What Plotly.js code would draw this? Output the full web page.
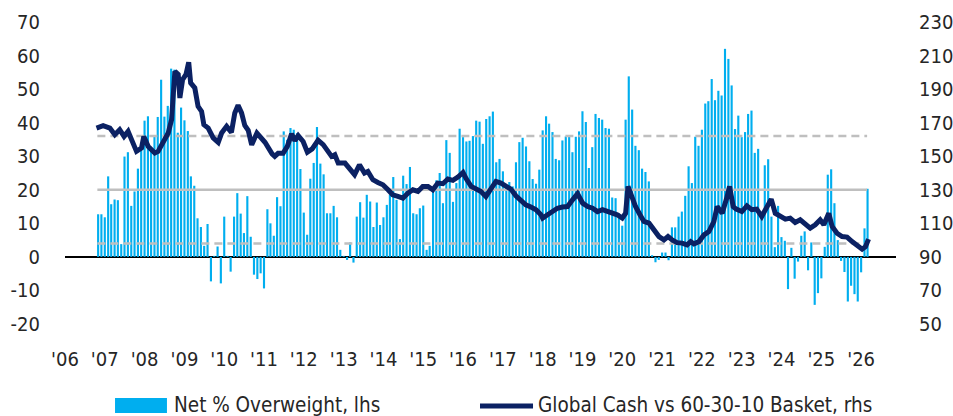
<!DOCTYPE html>
<html>
<head>
<meta charset="utf-8">
<script src="https://cdn.plot.ly/plotly-3.0.1.min.js"></script>
<style>
  html, body { margin: 0; padding: 0; background: #fff; }
  #chart { width: 953px; height: 416px; }
</style>
</head>
<body>
<div id="chart"></div>
<script>
// ---- Net % overweight cash (lhs), monthly, first bar = Nov 2006 ----
const barStart = { year: 2006, month: 11 };
const ow2006 = [12.7, 12.7];
const ow2007 = [11.8, 24.0, 15.7, 17.1, 16.9, 3.8, 29.9, 31.2, 15.2, 19.5, 26.3, 31.9];
const ow2008 = [40.6, 41.9, 32, 36, 41.7, 52.8, 41.8, 45, 56.1, 55.8, 37, 44.5];
const ow2009 = [40.7, 37.5, 24.0, 21.2, 11.5, 8.9, 3.3, 9.8, -7.3, 0.3, 3.1, -7.9];
const ow2010 = [12, 0.3, -4.4, 12, 19, 12.9, 7.1, 18.1, 6, -5.3, -6.6, -4.9];
const ow2011 = [-9.4, 14.2, 10, 6.3, 17.8, 15.1, 37.4, 34.9, 38.4, 37.9, 36.9, 26.2];
const ow2012 = [13.2, 6.6, 23.3, 28, 38.7, 27.8, 24.6, 13, 13, 15.2, 11.8, 2.1];
const ow2013 = [0.3, -0.9, 4.3, -1.7, 12, 16.3, 11.7, 18.5, 16.5, 8.9, 16.2, 9.5];
const ow2014 = [11.8, 15.5, 18.5, 23.8, 17, 5.3, 24.2, 21.7, 26.8, 13, 12.7, 14.5];
const ow2015 = [15.3, 2.1, 3.3, 19.5, 22.8, 25, 16, 34.8, 31, 16.4, 22, 38.2];
const ow2016 = [35.7, 34.4, 34.6, 36, 40.6, 40.3, 33.7, 41.1, 41.9, 43.3, 28.2, 29.2];
const ow2017 = [25.5, 21, 22.3, 21, 28.2, 34.2, 35.5, 32.9, 28.5, 23.2, 21.8, 26];
const ow2018 = [37.7, 41.9, 39.7, 37.2, 29.2, 28.8, 34.7, 35.9, 36, 31.2, 35.8, 37.4];
const ow2019 = [43.4, 40.2, 26.5, 32.7, 42.6, 41.4, 40.9, 38.4, 38.2, 17.7, 17.5, 13];
const ow2020 = [9.3, 40.9, 53.8, 43.9, 33.1, 31.8, 26.3, 25.3, 22.5, 0.5, -1.6, -0.9];
const ow2021 = [1.3, 1.3, -1, 8.8, 8.8, 12, 13.5, 18.2, 27, 22, 35.8, 33.1];
const ow2022 = [37.9, 45.7, 46.4, 53, 46.7, 49.5, 48.1, 62, 59, 51.1, 38.1, 42.1];
const ow2023 = [35.7, 37.2, 42.6, 43.6, 31, 32.2, 13, 27.3, 29.1, 12, 2.9, 15.2];
const ow2024 = [5.9, 4.8, -9.6, 2.7, -6.5, -1.4, 6.3, 7.6, -4, 4.3, -14.3, -10.8];
const ow2025 = [-6.4, 3, 24.5, 26.1, 16, 5, -1.2, -4.5, -13.3, -8.6, -11.1, -13.3];
const ow2026 = [-4.6, 8.5, 20.3];

// ---- Global Cash vs 60-30-10 basket (rhs) ----
const cashDates = [
'2006-10-17','2006-12-17','2007-02-17','2007-04-03','2007-05-18','2007-06-27','2007-08-03','2007-09-18',
'2007-10-19','2007-12-04','2007-12-25','2008-02-04','2008-04-04','2008-05-04','2008-06-19','2008-08-05',
'2008-09-05','2008-09-20','2008-10-05','2008-11-05','2008-11-20','2008-12-15','2009-01-15','2009-02-09',
'2009-02-27','2009-04-06','2009-05-06','2009-06-07','2009-06-28','2009-08-07','2009-09-22','2009-11-07',
'2009-12-08','2010-01-23','2010-03-08','2010-04-08','2010-05-08','2010-06-09','2010-07-09','2010-08-09',
'2010-09-10','2010-10-28','2010-12-01','2011-01-10','2011-03-16','2011-04-10','2011-05-10','2011-06-25',
'2011-08-03','2011-09-11','2011-10-11','2011-11-11','2011-12-26','2012-02-03','2012-03-18','2012-05-11',
'2012-06-27','2012-07-27','2012-09-12','2012-10-12','2012-11-12','2013-01-13','2013-02-10','2013-04-11',
'2013-05-26','2013-07-11','2013-08-11','2013-09-26','2013-11-11','2013-12-27','2014-02-12','2014-03-27',
'2014-05-13','2014-06-28','2014-08-13','2014-09-28','2014-11-13','2014-12-28','2015-02-14','2015-03-30',
'2015-05-15','2015-06-30','2015-08-15','2015-09-30','2015-11-15','2016-01-01','2016-02-01','2016-03-16',
'2016-05-01','2016-06-14','2016-07-29','2016-09-14','2016-10-29','2016-12-14','2017-01-29','2017-03-15',
'2017-04-30','2017-06-15','2017-07-30','2017-09-15','2017-11-01','2017-12-16','2018-01-01','2018-02-15',
'2018-04-01','2018-05-16','2018-07-01','2018-08-17','2018-10-02','2018-11-17','2019-01-03','2019-02-18',
'2019-04-04','2019-05-19','2019-07-04','2019-08-21','2019-09-16','2019-11-16','2020-01-01','2020-02-01',
'2020-02-23','2020-03-23','2020-05-02','2020-06-12','2020-07-18','2020-09-03','2020-10-18','2020-12-03',
'2021-01-18','2021-02-24','2021-04-03','2021-05-18','2021-07-03','2021-08-18','2021-09-20','2021-10-20',
'2021-12-05','2022-01-20','2022-03-06','2022-04-21','2022-05-21','2022-07-06','2022-08-21','2022-09-12',
'2022-10-15','2022-11-12','2023-01-03','2023-02-18','2023-04-04','2023-05-19','2023-07-04','2023-08-19',
'2023-09-29','2023-11-05','2023-12-21','2024-02-06','2024-03-21','2024-05-06','2024-06-21','2024-08-06',
'2024-09-21','2024-11-06','2024-12-21','2025-01-24','2025-03-10','2025-04-10','2025-05-25','2025-07-10',
'2025-08-25','2025-10-10','2025-11-25','2026-01-10','2026-02-10','2026-03-10'];
const cashLevel = [
166.8,168.2,166.8,162.8,165.8,161.8,164.8,157.9,
152.9,154.9,161.8,155.8,151.9,152.9,158.8,163.8,
171.8,185.7,200.6,198.7,184.7,195.7,198.7,206,
193.7,190.7,179.7,176.7,168.8,166.8,160.9,158.2,
163.8,167.8,164.2,175.8,180.4,175.8,168.3,165.5,
156.8,163.8,160.9,158.3,151.4,149.9,151.7,151.7,
155.9,163.3,159.3,162.3,158.8,152.4,154.4,159.5,
156.9,153.9,149.9,150.9,145.9,145.9,143.5,139,
144.9,140,140.9,136,134.4,133,130,127,
126,125,128,130,129,132,132,130,
134,133.6,136.4,135.6,137.6,140.3,136.4,132,
130.5,129,126,130,135,134,132,130.4,
126.4,123.6,121,119.7,118.1,115.1,113.1,115.1,
117,119,119.7,120,124,127.6,122,120,
119,117,118.1,117,117,115.1,113.1,116,
132,126,120,115.1,111.1,110.1,106.1,102.1,
100.1,102.1,100.1,98.5,98.2,97.2,99.1,97.8,
99.1,103.1,105.1,111.1,120,116,126,132,
120,118.5,117,120.4,118.1,118.5,114.1,120,
124.4,116,114.1,112.5,113.1,110.5,112.1,109.1,
107.1,109.1,112.1,109.1,116,108.1,104.1,102.1,
101.8,99.1,97.2,94.6,96.1,100.6];

// ---- reference levels (lhs) and span ----
const refSolid = 20;
const refDashed = [36, 4];
const refSpan = ['2006-10-25', '2026-02-25'];

// ---- axis ticks ----
const yearTickVals = ['2006-01-01','2007-01-01','2008-01-01','2009-01-01','2010-01-01','2011-01-01','2012-01-01',
  '2013-01-01','2014-01-01','2015-01-01','2016-01-01','2017-01-01','2018-01-01','2019-01-01','2020-01-01',
  '2021-01-01','2022-01-01','2023-01-01','2024-01-01','2025-01-01','2026-01-01'];
const yearTickText = ["'06","'07","'08","'09","'10","'11","'12","'13","'14","'15","'16","'17","'18","'19","'20",
  "'21","'22","'23","'24","'25","'26"];
const lhsTickVals = [-20, -10, 0, 10, 20, 30, 40, 50, 60, 70];
const lhsTickText = ['-20', '-10', '0', '10', '20', '30', '40', '50', '60', '70'];
const rhsTickVals = [50, 70, 90, 110, 130, 150, 170, 190, 210, 230];
const rhsTickText = ['50', '70', '90', '110', '130', '150', '170', '190', '210', '230'];

const legendBarLabel = 'Net % Overweight, lhs';
const legendLineLabel = 'Global Cash vs 60-30-10 Basket, rhs';

// build monthly dates for the bars
const owValues = [].concat(ow2006, ow2007, ow2008, ow2009, ow2010, ow2011, ow2012, ow2013, ow2014,
  ow2015, ow2016, ow2017, ow2018, ow2019, ow2020, ow2021, ow2022, ow2023, ow2024, ow2025, ow2026);
const owDates = [];
{
  let y = barStart.year, m = barStart.month;
  for (let i = 0; i < owValues.length; i++) {
    owDates.push(y + '-' + String(m).padStart(2, '0') + '-01');
    m++; if (m > 12) { m = 1; y++; }
  }
}

const FONT = '"DejaVu Sans Condensed", "Liberation Sans Narrow", sans-serif';
const TXT = '#262626';
const BLUE = '#00AEEF';
const NAVY = '#0B2163';
const GREY = '#BFBFBF';

const traces = [
  {
    type: 'bar', x: owDates, y: owValues, name: legendBarLabel,
    marker: { color: BLUE, line: { width: 0 } }, yaxis: 'y', showlegend: false, hoverinfo: 'skip'
  },
  {
    type: 'scatter', mode: 'lines', x: refSpan, y: [refSolid, refSolid], yaxis: 'y',
    line: { color: GREY, width: 2.5 }, showlegend: false, hoverinfo: 'skip'
  },
  ...refDashed.map(v => ({
    type: 'scatter', mode: 'lines', x: refSpan, y: [v, v], yaxis: 'y',
    line: { color: GREY, width: 2.5, dash: '8px,5px' }, showlegend: false, hoverinfo: 'skip'
  })),
  {
    type: 'scatter', mode: 'lines', x: cashDates, y: cashLevel, name: legendLineLabel, yaxis: 'y2',
    line: { color: NAVY, width: 5, shape: 'linear' }, showlegend: false, hoverinfo: 'skip'
  }
];

const tickFont = { family: FONT, size: 20, color: TXT };
const legendFont = { family: FONT, size: 20.5, color: TXT };

const layout = {
  width: 953, height: 416,
  margin: { l: 65, r: 57, t: 22, b: 92 },
  paper_bgcolor: '#ffffff', plot_bgcolor: '#ffffff',
  bargap: 0.3,
  showlegend: false,
  font: { family: FONT, size: 20, color: TXT },
  xaxis: {
    type: 'date', range: ['2006-01-01', '2026-11-17'],
    tickmode: 'array', tickvals: yearTickVals, ticktext: yearTickText,
    showgrid: false, zeroline: false, showline: false,
    ticks: 'outside', ticklen: 17, tickcolor: 'rgba(0,0,0,0)',
    tickfont: tickFont
  },
  yaxis: {
    range: [-20, 70], tickmode: 'array', tickvals: lhsTickVals, ticktext: lhsTickText,
    showgrid: false, zeroline: true, zerolinecolor: '#000000', zerolinewidth: 1.5,
    showline: false, ticks: 'outside', ticklen: 20, tickcolor: 'rgba(0,0,0,0)',
    tickfont: tickFont
  },
  yaxis2: {
    range: [50, 230], tickmode: 'array', tickvals: rhsTickVals, ticktext: rhsTickText,
    overlaying: 'y', side: 'right',
    showgrid: false, zeroline: false, showline: false,
    ticks: 'outside', ticklen: 18, tickcolor: 'rgba(0,0,0,0)',
    tickfont: tickFont
  },
  shapes: [
    { type: 'rect', xref: 'paper', yref: 'paper', x0: 0.0602, x1: 0.1227, y0: -0.2947, y1: -0.245,
      fillcolor: BLUE, line: { width: 0 } },
    { type: 'line', xref: 'paper', yref: 'paper', x0: 0.4994, x1: 0.5632, y0: -0.2715, y1: -0.2715,
      line: { color: NAVY, width: 5 } }
  ],
  annotations: [
    { xref: 'paper', yref: 'paper', x: 0.129, y: -0.268, xanchor: 'left', yanchor: 'middle',
      text: legendBarLabel, showarrow: false, font: legendFont },
    { xref: 'paper', yref: 'paper', x: 0.567, y: -0.268, xanchor: 'left', yanchor: 'middle',
      text: legendLineLabel, showarrow: false, font: legendFont }
  ]
};

Plotly.newPlot('chart', traces, layout, { staticPlot: true, displayModeBar: false });
</script>
</body>
</html>
